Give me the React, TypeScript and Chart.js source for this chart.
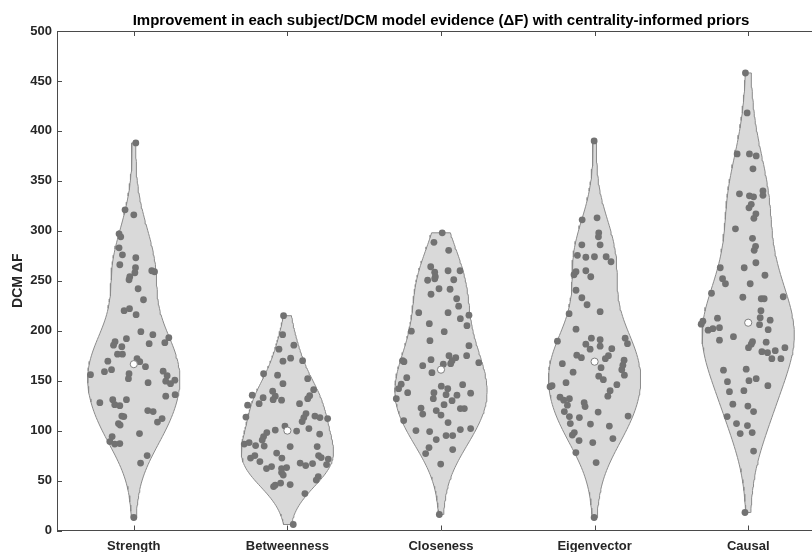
import React, { useEffect, useRef } from 'react';
import { Chart, registerables } from 'chart.js';

Chart.register(...registerables);

const categories = ['Strength', 'Betweenness', 'Closeness', 'Eigenvector', 'Causal'];
const yTickValues = [0, 50, 100, 150, 200, 250, 300, 350, 400, 450, 500];

const strengthValues = [388, 321, 316, 297, 294, 283, 276, 273, 266, 263, 258, 260, 259, 254, 251, 242, 231, 220, 222, 216, 199, 196, 192, 187, 189, 185.5, 184, 193, 188, 176.5, 176.5, 169.5, 172, 169, 164, 159, 161, 156, 157, 152, 148, 159.5, 155, 149.5, 147, 150.5, 136, 134.5, 128, 131, 131, 126, 125, 114.5, 114, 107, 105.5, 120, 119, 108.5, 112, 94, 89, 86.5, 87, 97, 75, 67.5, 13];
const strengthJitter = [0.013, -0.057, 0, -0.096, -0.085, -0.096, -0.074, 0.013, -0.091, 0.011, 0.007, 0.117, 0.135, -0.026, -0.031, 0.028, 0.063, -0.063, -0.028, 0.015, 0.046, 0.124, -0.048, 0.1, -0.122, -0.132, -0.078, 0.228, 0.202, -0.106, -0.074, -0.169, 0.021, 0.039, 0.076, -0.191, -0.145, -0.282, -0.031, -0.035, 0.093, 0.191, 0.217, 0.208, 0.239, 0.267, 0.269, 0.208, -0.221, -0.137, -0.048, -0.124, -0.091, -0.078, -0.065, -0.1, -0.089, 0.091, 0.126, 0.154, 0.184, -0.141, -0.156, -0.124, -0.091, 0.037, 0.087, 0.044, 0];

const betweennessValues = [215, 196, 185.5, 181.5, 172.5, 169.5, 170, 157, 155.5, 147, 152, 141, 135, 132, 135.5, 133, 139.5, 134.5, 131, 130.5, 125.5, 127, 127, 113.5, 117, 113, 109, 114.5, 113, 112, 104.5, 100.5, 99.5, 102, 96.5, 98, 94, 90.5, 86.5, 88, 85, 84.5, 84, 84, 77.5, 72.5, 72.5, 75, 69, 75, 73, 71.5, 66, 67.5, 65, 67, 62, 64, 62, 63, 58, 55.5, 54, 50.5, 44, 45.5, 47.5, 46, 37, 6];
const betweennessJitter = [-0.025, -0.031, 0.042, -0.055, 0.021, -0.029, 0.099, -0.155, -0.064, -0.029, 0.132, 0.171, 0.145, 0.132, -0.229, -0.158, -0.096, -0.079, -0.093, -0.038, -0.259, -0.184, 0.079, -0.27, 0.121, 0.107, 0.096, 0.179, 0.212, 0.262, -0.016, -0.079, 0.06, 0.14, 0.21, -0.134, -0.155, -0.164, -0.281, -0.249, -0.207, -0.151, 0.018, 0.194, -0.07, -0.036, -0.24, -0.212, -0.179, 0.203, 0.22, 0.266, 0.255, 0.083, 0.119, 0.164, -0.136, -0.103, -0.038, -0.005, -0.038, -0.027, 0.201, 0.188, -0.09, -0.079, -0.044, 0.018, 0.114, 0.038];

const closenessValues = [298, 288.5, 280.5, 264, 258.5, 254, 250.5, 252, 260, 260, 251, 242, 241.5, 236.5, 232, 224.5, 218, 218, 215.5, 212, 207, 205, 199.5, 199, 190, 185, 175, 175, 173, 170, 167, 171, 170, 169, 168, 165, 166.5, 158, 153, 146.5, 142, 138, 132, 144.5, 142, 146, 137.5, 138, 132, 136, 135.5, 130, 126, 122.5, 116.5, 120, 115.5, 122, 122, 110, 108, 100, 99, 101, 102, 95, 95, 91, 83, 77, 81, 66.5, 16];
const closenessJitter = [0.008, -0.046, 0.05, -0.067, -0.041, -0.037, -0.087, -0.041, 0.046, 0.124, 0.083, -0.013, 0.059, -0.065, 0.102, 0.115, -0.145, 0.046, 0.182, 0.126, -0.076, 0.169, -0.193, 0.021, -0.072, 0.182, 0.052, 0.167, 0.096, 0.072, 0.063, -0.065, -0.25, -0.241, 0.246, -0.119, 0.015, -0.059, -0.223, -0.259, -0.276, -0.217, -0.291, 0.002, 0.044, 0.141, 0.193, -0.046, -0.05, 0.033, 0.104, 0.072, 0.02, -0.13, -0.119, -0.031, 0, 0.126, 0.152, -0.243, 0.046, -0.163, -0.074, 0.126, 0.193, 0.033, 0.076, -0.031, -0.078, -0.1, 0.076, -0.002, -0.011];

const eigenvectorValues = [390, 311, 313, 298, 294, 286, 286, 275.5, 273.5, 274, 274, 269, 256, 259, 260, 254, 240.5, 233, 226, 219, 217, 201.5, 189.5, 192.5, 191, 186.5, 181.5, 184.5, 192.5, 187, 182, 175.5, 173, 175, 172, 167, 170.5, 165.5, 163, 158.5, 161, 155.5, 154.5, 151, 148, 145, 144, 146, 140, 134.5, 133.5, 130.5, 132, 125.5, 128, 124, 119, 118.5, 114, 114.5, 113, 107, 106.5, 104.5, 98, 95.5, 90, 88, 92, 78, 68, 13];
const eigenvectorJitter = [-0.003, -0.081, 0.016, 0.027, 0.025, -0.083, 0.036, -0.112, -0.057, -0.001, 0.075, 0.107, -0.134, -0.121, -0.057, -0.025, -0.121, -0.083, -0.049, 0.036, -0.166, -0.121, -0.242, -0.021, 0.036, -0.057, -0.029, 0.036, 0.199, 0.214, 0.112, -0.116, -0.086, 0.09, 0.07, -0.21, 0.192, 0.184, 0.042, -0.14, 0.177, 0.194, 0.027, 0.057, -0.186, -0.277, -0.29, 0.145, 0.101, 0.086, -0.225, -0.201, -0.164, -0.177, -0.068, -0.062, -0.197, 0.023, -0.164, 0.218, -0.099, -0.158, -0.027, 0.096, -0.132, -0.145, -0.101, -0.012, 0.119, -0.122, 0.01, -0.003];

const causalValues = [458, 418, 377, 377, 375, 362, 337, 335, 334, 340, 335.5, 326.5, 323, 317, 312.5, 302, 292.5, 284.5, 280.5, 268, 263, 263, 252, 247, 255.5, 247, 237.5, 233.5, 232, 232, 234, 220, 212.5, 209.5, 206.5, 213, 210.5, 206, 200.5, 202, 203, 201, 194, 190.5, 188.5, 189, 186.5, 183, 183, 179, 178, 180, 172, 172, 160.5, 161.5, 149, 150, 152, 145, 139, 140, 126.5, 124.5, 119, 114, 107, 105, 97, 98, 79.5, 18];
const causalJitter = [-0.018, -0.007, -0.072, 0.008, 0.052, 0.031, -0.057, 0.008, 0.035, 0.096, 0.096, 0.02, 0.005, 0.05, 0.037, -0.083, 0.028, 0.048, 0.039, 0.05, -0.182, -0.026, -0.167, -0.148, 0.109, 0.013, -0.239, -0.035, 0.085, 0.104, 0.228, 0.083, -0.2, -0.295, -0.306, 0.078, 0.143, 0.074, -0.261, -0.23, -0.187, 0.13, -0.096, -0.187, 0.117, 0.028, 0.02, 0.002, 0.239, 0.089, 0.126, 0.176, 0.154, 0.213, -0.161, -0.013, -0.135, 0.005, 0.052, 0.128, -0.122, -0.028, -0.1, -0.002, 0.035, -0.137, -0.076, -0.005, -0.052, 0.026, 0.035, -0.021];

const medianValues = [166.5, 100, 161, 169, 208];

const seriesValues = [strengthValues, betweennessValues, closenessValues, eigenvectorValues, causalValues];
const seriesJitter = [strengthJitter, betweennessJitter, closenessJitter, eigenvectorJitter, causalJitter];

const FONT = "'Liberation Sans', Arial, Helvetica, sans-serif";
const VIOLIN_WIDTH = 0.3;

function median(a: number[]): number {
  const s = [...a].sort((p, q) => p - q);
  const n = s.length;
  return n % 2 ? s[(n - 1) / 2] : (s[n / 2 - 1] + s[n / 2]) / 2;
}

// kernel density estimate (MATLAB ksdensity default bandwidth), truncated to data range
function violinOutline(data: number[], pos: number) {
  const n = data.length;
  const m = median(data);
  const mad = median(data.map((v) => Math.abs(v - m)));
  const bw = (mad / 0.6745) * Math.pow(4 / (3 * n), 0.2);
  const lo = Math.min(...data);
  const hi = Math.max(...data);
  const steps = 120;
  const prof: { y: number; d: number }[] = [];
  for (let k = 0; k <= steps; k++) {
    const y = lo + ((hi - lo) * k) / steps;
    let d = 0;
    for (const v of data) {
      const z = (y - v) / bw;
      d += Math.exp(-0.5 * z * z);
    }
    prof.push({ y, d });
  }
  const maxD = Math.max(...prof.map((p) => p.d));
  const right = prof.map((p) => ({ x: pos + (VIOLIN_WIDTH * p.d) / maxD, y: p.y }));
  const left = prof
    .slice()
    .reverse()
    .map((p) => ({ x: pos - (VIOLIN_WIDTH * p.d) / maxD, y: p.y }));
  const pts = [...right, ...left];
  pts.push(pts[0]);
  return pts;
}

const axisDecor = {
  id: 'axisDecor',
  afterDraw(chart: any) {
    const { ctx, chartArea: a, scales } = chart;
    const x = scales.x;
    const y = scales.y;
    ctx.save();
    ctx.strokeStyle = '#4a4a4a';
    ctx.lineWidth = 1;
    ctx.beginPath();
    const top = Math.round(a.top) + 0.5;
    ctx.moveTo(a.left, top);
    ctx.lineTo(a.right, top);
    const r = Math.round(a.right) + 0.5;
    ctx.moveTo(r, a.top);
    ctx.lineTo(r, a.bottom);
    for (const t of y.ticks) {
      const py = Math.round(y.getPixelForValue(t.value)) + 0.5;
      ctx.moveTo(a.left, py);
      ctx.lineTo(a.left + 5, py);
      ctx.moveTo(a.right, py);
      ctx.lineTo(a.right - 5, py);
    }
    for (const t of x.ticks) {
      const px = Math.round(x.getPixelForValue(t.value)) + 0.5;
      ctx.moveTo(px, a.bottom);
      ctx.lineTo(px, a.bottom - 5);
      ctx.moveTo(px, a.top);
      ctx.lineTo(px, a.top + 5);
    }
    ctx.stroke();
    ctx.restore();
  },
};

export default function App() {
  const ref = useRef<HTMLCanvasElement | null>(null);

  useEffect(() => {
    if (!ref.current) return;
    const datasets: any[] = [];
    seriesValues.forEach((vals, i) => {
      datasets.push({
        type: 'line',
        data: violinOutline(vals, i + 1),
        borderColor: '#8a8a8a',
        borderWidth: 1,
        backgroundColor: '#d9d9d9',
        fill: 'shape',
        pointRadius: 0,
        tension: 0,
        order: 3,
      });
      datasets.push({
        type: 'scatter',
        data: vals.map((v, k) => ({ x: i + 1 + seriesJitter[i][k], y: v })),
        pointRadius: 3.4,
        pointBackgroundColor: '#727272',
        pointBorderWidth: 0,
        borderWidth: 0,
        order: 2,
      });
    });
    datasets.push({
      type: 'scatter',
      data: medianValues.map((v, i) => ({ x: i + 1, y: v })),
      pointRadius: 3.6,
      pointBackgroundColor: '#ffffff',
      pointBorderColor: '#808080',
      pointBorderWidth: 1,
      order: 1,
    });

    const chart = new Chart(ref.current, {
      type: 'scatter',
      data: { datasets },
      plugins: [axisDecor],
      options: {
        animation: false,
        responsive: false,
        devicePixelRatio: 1,
        events: [],
        layout: { padding: { left: 0, right: 15, top: 0, bottom: 0 } },
        plugins: {
          legend: { display: false },
          tooltip: { enabled: false },
          title: {
            display: true,
            fullSize: false,
            text: 'Improvement in each subject/DCM model evidence (\u0394F) with centrality-informed priors',
            color: '#000000',
            font: { family: FONT, size: 15, weight: 'bold' },
            padding: { top: 12, bottom: 1 },
          },
        },
        scales: {
          x: {
            type: 'linear',
            min: 0.5,
            max: 5.5,
            afterBuildTicks: (s: any) => {
              s.ticks = categories.map((_, i) => ({ value: i + 1 }));
            },
            afterFit: (s: any) => {
              s.height = 21.5;
            },
            ticks: {
              autoSkip: false,
              maxRotation: 0,
              padding: 8,
              color: '#262626',
              font: { family: FONT, size: 13, weight: 'bold' },
              callback: (v: any) => categories[Math.round(v) - 1] ?? '',
            },
            grid: { display: true, drawOnChartArea: false, drawTicks: false },
            border: { display: true, color: '#4a4a4a', width: 1 },
          },
          y: {
            type: 'linear',
            min: 0,
            max: 500,
            afterBuildTicks: (s: any) => {
              s.ticks = yTickValues.map((v) => ({ value: v }));
            },
            afterFit: (s: any) => {
              s.width = 57;
            },
            ticks: {
              padding: 5,
              color: '#262626',
              font: { family: FONT, size: 13, weight: 'bold' },
            },
            title: {
              display: true,
              text: 'DCM \u0394F',
              color: '#262626',
              font: { family: FONT, size: 14, weight: 'bold' },
              padding: { top: 9.5, bottom: 0 },
            },
            grid: { display: true, drawOnChartArea: false, drawTicks: false },
            border: { display: true, color: '#4a4a4a', width: 1 },
          },
        },
      },
    });
    return () => chart.destroy();
  }, []);

  return (
    <div style={{ position: 'fixed', left: 0, top: 0, width: 812, height: 552, overflow: 'hidden', background: '#fff' }}>
      <canvas ref={ref} width={840} height={552} style={{ display: 'block' }} />
    </div>
  );
}
